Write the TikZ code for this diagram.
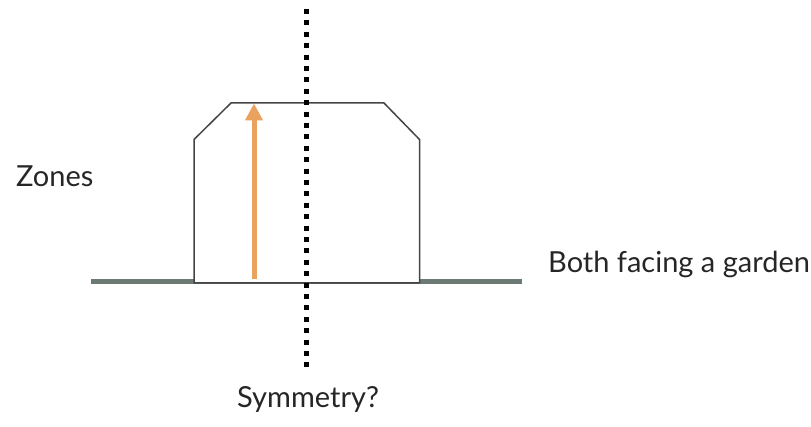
\documentclass[tikz,border=0pt]{standalone}
\usepackage{fontspec}
\setmainfont{Lato}
\usetikzlibrary{arrows.meta}
\definecolor{groundc}{HTML}{6B7B74}
\definecolor{arrowc}{HTML}{E9A35F}
\definecolor{outlinec}{HTML}{454545}
\tikzset{
  lbl/.style={anchor=base west, inner sep=0pt, font=\fontsize{29}{34}\selectfont, text=black!85},
  ground/.style={line width=5pt, draw=groundc},
  house/.style={line width=1.5pt, draw=outlinec, fill=white, line join=miter},
  symline/.style={line width=5pt, dash pattern=on 5pt off 6.4pt},
  facing/.style={line width=5pt, draw=arrowc, -{Triangle[length=17pt,width=17pt]}}
}
\begin{document}
\begin{tikzpicture}[x=1pt,y=-1pt]
\useasboundingbox (0,0) rectangle (811,427);
\coordinate (gl) at (91,282);
\coordinate (gr) at (522,282);
\draw[ground] (gl) -- (gr);
\draw[house] (194,283) -- (194,139.5) -- (231,103) -- (384,103) -- (419.5,139.5) -- (419.5,283) -- cycle;
\coordinate (ab) at (254,279);
\coordinate (at) at (254,103.5);
\draw[facing] (ab) -- (at);
\coordinate (st) at (306,9);
\coordinate (sb) at (306,370);
\draw[symline] (st) -- (sb);
\node[lbl] (zones) at (16,187) {Zones};
\node[lbl] (both) at (548,273) {Both facing a garden};
\node[lbl] (sym) at (237,407) {Symmetry?};
\end{tikzpicture}
\end{document}
